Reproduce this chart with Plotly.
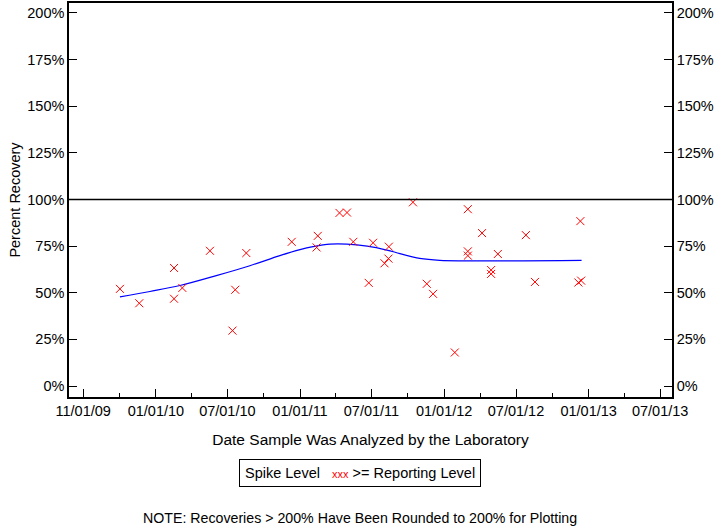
import plotly.graph_objects as go

# Sample data (>= Reporting Level)
dates = ["2009-10-02", "2009-11-20", "2010-02-16", "2010-02-16", "2010-03-09",
         "2010-05-18", "2010-07-21", "2010-07-14", "2010-08-18", "2010-12-11",
         "2011-02-15", "2011-02-12", "2011-04-11", "2011-04-30", "2011-05-16",
         "2011-07-05", "2011-06-24", "2011-08-14", "2011-08-13", "2011-08-03",
         "2011-10-14", "2011-11-18", "2011-12-04", "2012-01-28", "2012-03-01",
         "2012-03-01", "2012-03-01", "2012-04-06", "2012-04-29", "2012-04-29",
         "2012-05-16", "2012-07-26", "2012-08-18", "2012-12-11", "2012-12-06",
         "2012-12-13"]
recovery = [52.1, 44.4, 63.3, 46.8, 52.6,
            72.5, 51.6, 29.7, 71.3, 77.3,
            80.5, 74.3, 92.8, 93.0, 77.3,
            76.8, 55.3, 74.7, 68.3, 65.8,
            98.5, 54.8, 49.4, 18.0, 94.8,
            72.2, 69.9, 82.0, 62.2, 60.1,
            70.8, 80.9, 55.8, 88.4, 55.5,
            56.5]

# Smoothed trend line
trend_dates = ["2009-10-02", "2009-12-17", "2010-03-03", "2010-06-03", "2010-08-27",
               "2010-11-11", "2011-01-01", "2011-02-03", "2011-03-18", "2011-04-30",
               "2011-06-20", "2011-08-09", "2011-09-11", "2011-10-31", "2011-12-21",
               "2012-12-14"]
trend_vals = [47.8, 50.7, 53.9, 59.2, 64.5,
              69.9, 73.1, 74.7, 76.1, 76.1,
              75.0, 72.9, 71.0, 68.4, 67.4,
              67.4]

x_tickvals = ["2009-07-01", "2010-01-01", "2010-07-01", "2011-01-01", "2011-07-01",
              "2012-01-01", "2012-07-01", "2013-01-01", "2013-07-01"]
x_ticktext = ["11/01/09", "01/01/10", "07/01/10", "01/01/11", "07/01/11",
              "01/01/12", "07/01/12", "01/01/13", "07/01/13"]
x_minor = ["2009-10-01", "2010-04-01", "2010-10-01", "2011-04-01", "2011-10-01",
           "2012-04-01", "2012-10-01", "2013-04-01"]
y_tickvals = [0, 25, 50, 75, 100, 125, 150, 175, 200]
y_ticktext = ["0%", "25%", "50%", "75%", "100%", "125%", "150%", "175%", "200%"]

FONT = "Liberation Sans, Arial, sans-serif"

fig = go.Figure()
fig.add_trace(go.Scatter(x=trend_dates, y=trend_vals, mode="lines",
                         line=dict(color="#0000ff", width=1.2, shape="spline"),
                         showlegend=False, hoverinfo="skip"))
fig.add_trace(go.Scatter(x=dates, y=recovery, mode="markers",
                         marker=dict(symbol="x-thin", size=8,
                                     line=dict(color="#ff0000", width=1)),
                         showlegend=False))
fig.add_trace(go.Scatter(x=[dates[0]], y=[recovery[0]], yaxis="y2", mode="markers",
                         marker=dict(opacity=0), showlegend=False, hoverinfo="skip"))

yrange = [-5.87, 205.33]
fig.update_layout(
    width=720, height=528,
    margin=dict(l=69, r=48, t=1, b=131),
    paper_bgcolor="white", plot_bgcolor="white",
    font=dict(family=FONT, size=14, color="black"),
    xaxis=dict(type="date", range=["2009-05-26", "2013-07-31"],
               tickmode="array", tickvals=x_tickvals, ticktext=x_ticktext,
               ticks="inside", ticklen=8, tickwidth=1, tickcolor="black",
               minor=dict(tickmode="array", tickvals=x_minor, ticks="inside",
                          ticklen=4, tickwidth=1, tickcolor="black", showgrid=False),
               showline=True, linecolor="black", linewidth=1.5, mirror=True,
               showgrid=False, zeroline=False,
               tickfont=dict(size=14.5),
               title=dict(text="Date Sample Was Analyzed by the Laboratory",
                          font=dict(size=15.5), standoff=16)),
    yaxis=dict(range=yrange, tickmode="array", tickvals=y_tickvals, ticktext=y_ticktext,
               ticks="inside", ticklen=8, tickwidth=1, tickcolor="black",
               showline=True, linecolor="black", linewidth=1.5,
               showgrid=False, zeroline=False, tickfont=dict(size=14.5),
               title=dict(text="Percent Recovery", font=dict(size=14.5), standoff=3)),
    yaxis2=dict(range=yrange, overlaying="y", side="right",
                tickmode="array", tickvals=y_tickvals, ticktext=y_ticktext,
                ticks="inside", ticklen=8, tickwidth=1, tickcolor="black",
                showline=True, linecolor="black", linewidth=1.5,
                showgrid=False, zeroline=False, tickfont=dict(size=14.5)),
)

fig.add_shape(type="line", xref="paper", yref="y", x0=0, x1=1, y0=100, y1=100,
              line=dict(color="black", width=1.5))

# Legend box
fig.add_annotation(xref="paper", yref="paper", x=(360 - 69) / 603, y=-(473 - 397) / 396,
                   xanchor="center", yanchor="middle", showarrow=False,
                   text="Spike Level   <span style='color:#ff0000;font-size:11px'>xxx</span> >= Reporting Level",
                   font=dict(size=14.5), bordercolor="black", borderwidth=1, borderpad=5,
                   bgcolor="white")
fig.add_annotation(xref="paper", yref="paper", x=(360 - 69) / 603, y=-(519 - 397) / 396,
                   xanchor="center", yanchor="middle", showarrow=False,
                   text="NOTE: Recoveries > 200% Have Been Rounded to 200% for Plotting",
                   font=dict(size=14.2))

fig.write_html("out.html")
